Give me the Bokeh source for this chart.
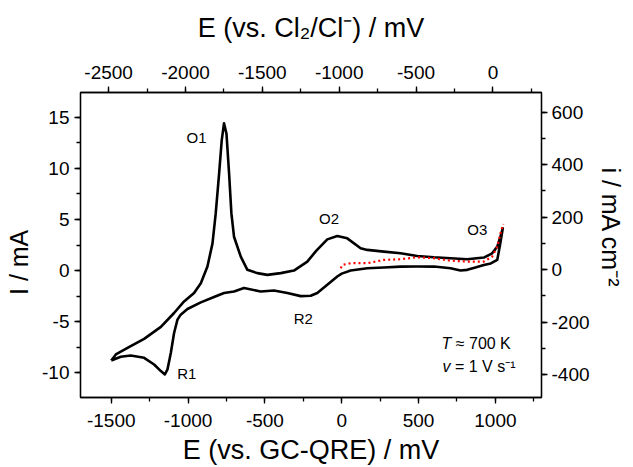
import math
from bokeh.plotting import figure
from bokeh.models import Range1d, LinearAxis, SingleIntervalTicker, Label, NumeralTickFormatter
from bokeh.embed import file_html
from bokeh.resources import INLINE

# ---- data ----
# anodic (forward) scan, black
E_fwd = [-1500, -1470, -1394, -1286, -1177, -1091, -1026, -961, -917, -874, -841, -820, -798,
         -781, -766, -750, -733, -718, -701, -657, -614, -549, -484, -397, -311, -224, -165,
         -94, -29, 36, 123, 166, 274, 383, 491, 600, 708, 817, 925, 979, 1012, 1033, 1048]
I_fwd = [-8.79, -8.2, -7.56, -6.68, -5.51, -4.15, -3.02, -2.20, -1.23, 0.39, 2.66, 5.59, 9.48,
         12.73, 14.41, 13.38, 9.48, 5.59, 3.31, 1.36, 0.07, -0.25, -0.42, -0.25, 0.0, 0.88, 1.95,
         3.05, 3.38, 3.15, 2.18, 2.02, 1.85, 1.69, 1.43, 1.30, 1.21, 1.11, 1.27, 1.69, 2.34, 3.31, 4.13]
# cathodic (reverse) scan, black
E_rev = [1048, 1030, 1012, 970, 925, 870, 817, 773, 708, 600, 490, 383, 274, 166, 58, 0, -29,
         -94, -159, -202, -267, -354, -441, -527, -636, -701, -766, -831, -917, -1004, -1048,
         -1069, -1091, -1112, -1134, -1151, -1177, -1221, -1286, -1373, -1438, -1500]
I_rev = [4.13, 2.5, 1.04, 0.7, 0.55, 0.3, 0.07, 0.0, 0.23, 0.39, 0.4, 0.39, 0.3, 0.23, 0.0, -0.3,
         -0.58, -1.39, -2.2, -2.46, -2.5, -2.2, -1.95, -2.04, -1.71, -2.04, -2.2, -2.59, -3.11,
         -3.76, -4.31, -4.80, -6.10, -8.04, -9.67, -10.16, -9.83, -9.18, -8.53, -8.31, -8.43, -8.79]
# red dotted scan
E_red = [-7, 4, 58, 166, 274, 383, 491, 600, 708, 817, 925, 979, 1012, 1033, 1051]
I_red = [0.23, 0.55, 0.72, 0.72, 1.04, 1.11, 1.30, 1.21, 0.97, 0.88, 0.88, 1.36, 2.34, 3.64, 4.55]

peak_names = ["O1", "O2", "O3", "R1", "R2"]
peak_E = [-945, -83, 882, -1008, -250]
peak_I = [13.05, 5.10, 4.03, -10.06, -4.7]

x_range = (-1700, 1300)
x_top_range = (-2683, 316)
y_range = (-12.41, 17.41)
y_right_range = (-487, 675)

FONT = "Liberation Sans"
NB = "\u00a0"

p = figure(width=633, height=467, x_range=Range1d(*x_range), y_range=Range1d(*y_range),
           output_backend="svg", toolbar_location=None,
           min_border_left=80, min_border_right=92, min_border_top=92, min_border_bottom=69)
p.extra_x_ranges = {"top": Range1d(*x_top_range)}
p.extra_y_ranges = {"right": Range1d(*y_right_range)}

bottom_axis = p.below[0]
left_axis = p.left[0]

p.xgrid.visible = False
p.ygrid.visible = False
p.outline_line_color = "black"
p.outline_line_width = 1.3
p.background_fill_color = "white"
p.border_fill_color = "white"

top_axis = LinearAxis(x_range_name="top")
right_axis = LinearAxis(y_range_name="right")
p.add_layout(top_axis, "above")
p.add_layout(right_axis, "right")

bottom_axis.ticker = SingleIntervalTicker(interval=500, num_minor_ticks=2)
top_axis.ticker = SingleIntervalTicker(interval=500, num_minor_ticks=2)
left_axis.ticker = SingleIntervalTicker(interval=5, num_minor_ticks=2)
right_axis.ticker = SingleIntervalTicker(interval=200, num_minor_ticks=2)

for ax in [bottom_axis, top_axis, left_axis, right_axis]:
    ax.formatter = NumeralTickFormatter(format="0")
    ax.axis_line_color = "black"
    ax.axis_line_width = 1.3
    ax.major_tick_line_color = "black"
    ax.major_tick_line_width = 1.3
    ax.minor_tick_line_color = "black"
    ax.minor_tick_line_width = 1.3
    ax.major_tick_in = 0
    ax.major_tick_out = 6
    ax.minor_tick_in = 0
    ax.minor_tick_out = 4
    ax.major_label_text_font = FONT
    ax.major_label_text_font_size = "19px"
    ax.major_label_text_color = "black"
    ax.major_label_standoff = 5
    ax.axis_label_text_font = FONT
    ax.axis_label_text_font_style = "normal"
    ax.axis_label_text_color = "black"

right_axis.major_label_standoff = 4
bottom_axis.major_label_standoff = 10
top_axis.major_label_standoff = 8

bottom_axis.axis_label = "E (vs. GC-QRE) / mV"
bottom_axis.axis_label_text_font_size = "27px"
bottom_axis.axis_label_standoff = 5

top_axis.axis_label = "E (vs. Cl₂/Cl⁻) / mV"
top_axis.axis_label_text_font_size = "27px"
top_axis.axis_label_standoff = 20

left_axis.axis_label = "I / mA" + NB * 5
left_axis.axis_label_text_font_size = "25px"
left_axis.axis_label_standoff = 6

right_axis.axis_label = "i / mA cm⁻²" + NB * 5
right_axis.axis_label_text_font_size = "25px"
right_axis.axis_label_standoff = 4
right_axis.axis_label_orientation = "vertical"

# curves
p.line(E_fwd + E_rev, I_fwd + I_rev, line_color="black", line_width=2.6, line_join="round")
p.line(E_red, I_red, line_color="#ff0000", line_width=2.2, line_dash="2 3")

# peak labels
for name, ex, iy in zip(peak_names, peak_E, peak_I):
    p.add_layout(Label(x=ex, y=iy, text=name, text_font=FONT, text_font_size="15px",
                       text_align="center", text_baseline="middle", text_color="black"))

# conditions
def lab(x, y, text, size, italic=False):
    p.add_layout(Label(x=x, y=y, text=text, text_font=FONT, text_font_size=size,
                       text_font_style="italic" if italic else "normal",
                       text_align="left", text_baseline="alphabetic", text_color="black"))

lab(650, -7.14, "T", "16px", italic=True)
lab(742, -7.14, "≈ 700 K", "16px")
lab(656, -9.38, "v", "16px", italic=True)
lab(737, -9.38, "= 1 V s⁻¹", "16px")

open("out.html", "w").write(file_html(p, INLINE))
